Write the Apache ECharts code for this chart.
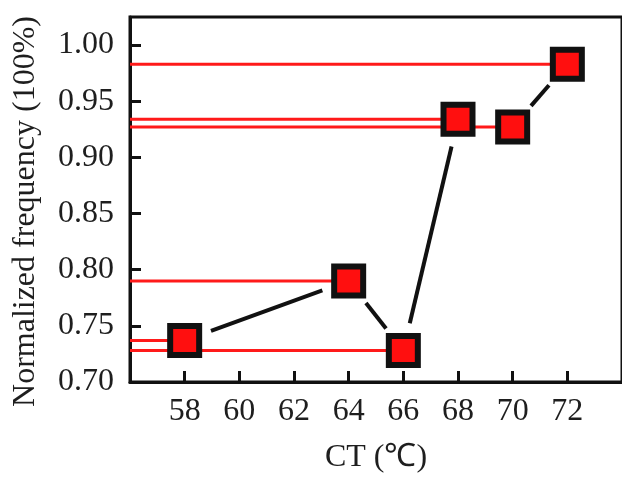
<!DOCTYPE html>
<html>
<head>
<meta charset="utf-8">
<script src="https://cdn.jsdelivr.net/npm/echarts@6/dist/echarts.min.js"></script>
<style>
html,body{margin:0;padding:0;background:#fff;}
#chart{width:622px;height:479px;}
</style>
</head>
<body>
<div id="chart"></div>
<script>
// Data
const ct = [58, 64, 66, 68, 70, 72];
const freq = [0.737, 0.790, 0.728, 0.934, 0.927, 0.983];
const xTicks = [58, 60, 62, 64, 66, 68, 70, 72];
const yTicks = [0.70, 0.75, 0.80, 0.85, 0.90, 0.95, 1.00];
const xMin = 56, xMax = 74;
const yMin = 0.70, yMax = 1.025;

const points = ct.map((c, i) => [c, freq[i]]);
const segments = [];
for (let i = 0; i < ct.length - 1; i++) segments.push([ct[i], freq[i], ct[i + 1], freq[i + 1]]);

const font = "'Liberation Serif', 'Times New Roman', serif";
const txt = '#1e1e1e';

const chart = echarts.init(document.getElementById('chart'), null, {renderer: 'canvas'});
chart.setOption({
  animation: false,
  backgroundColor: '#fff',
  grid: {left: 130, top: 17, width: 493, height: 368, show: true, borderColor: '#111', borderWidth: 3, containLabel: false},
  xAxis: {
    type: 'value', min: xMin, max: xMax, interval: 2,
    name: 'CT (℃)', nameLocation: 'middle', nameGap: 60,
    nameTextStyle: {fontFamily: font, fontSize: 32, color: txt},
    axisLine: {show: true, lineStyle: {color: '#111', width: 3}},
    axisTick: {show: true, inside: true, length: 11, lineStyle: {color: '#111', width: 3}},
    axisLabel: {
      showMinLabel: false, showMaxLabel: false, margin: 14,
      fontFamily: font, fontSize: 32, color: txt,
      formatter: v => (xTicks.indexOf(v) >= 0 ? String(v) : '')
    },
    splitLine: {show: false}
  },
  yAxis: {
    type: 'value', min: yMin, max: yMax, interval: 0.05,
    name: 'Normalized frequency (100%)', nameLocation: 'middle', nameGap: 88, nameRotate: 90,
    nameTextStyle: {fontFamily: font, fontSize: 32, color: txt, padding: [0, 24, 0, 0]},
    axisLine: {show: true, lineStyle: {color: '#111', width: 3}},
    axisTick: {show: true, inside: true, length: 11, lineStyle: {color: '#111', width: 3}},
    axisLabel: {
      showMaxLabel: false, margin: 16,
      fontFamily: font, fontSize: 32, color: txt,
      formatter: v => {
        const m = yTicks.find(t => Math.abs(t - v) < 1e-6);
        return m !== undefined ? m.toFixed(2) : '';
      }
    },
    splitLine: {show: false}
  },
  series: [
    {
      type: 'custom', name: 'guides', z: 2,
      data: points,
      encode: {x: 0, y: 1},
      renderItem: (params, api) => {
        const p0 = api.coord([xMin, api.value(1)]);
        const p1 = api.coord([api.value(0), api.value(1)]);
        return {type: 'line', shape: {x1: p0[0], y1: p0[1], x2: p1[0], y2: p1[1]},
          style: {stroke: '#ff1a1a', lineWidth: 3}};
      }
    },
    {
      type: 'custom', name: 'connect', z: 3,
      data: segments,
      encode: {x: [0, 2], y: [1, 3]},
      renderItem: (params, api) => {
        const a = api.coord([api.value(0), api.value(1)]);
        const b = api.coord([api.value(2), api.value(3)]);
        const dx = b[0] - a[0], dy = b[1] - a[1];
        const L = Math.hypot(dx, dy);
        const g = 28;
        if (L <= 2 * g) return null;
        const ux = dx / L, uy = dy / L;
        return {type: 'line', shape: {x1: a[0] + ux * g, y1: a[1] + uy * g, x2: b[0] - ux * g, y2: b[1] - uy * g},
          style: {stroke: '#111', lineWidth: 4}};
      }
    },
    {
      type: 'scatter', name: 'freq', z: 5,
      data: points,
      symbol: 'rect', symbolSize: 29,
      itemStyle: {color: '#ff0f0f', borderColor: '#111', borderWidth: 6, opacity: 1}
    }
  ]
});
</script>
</body>
</html>
